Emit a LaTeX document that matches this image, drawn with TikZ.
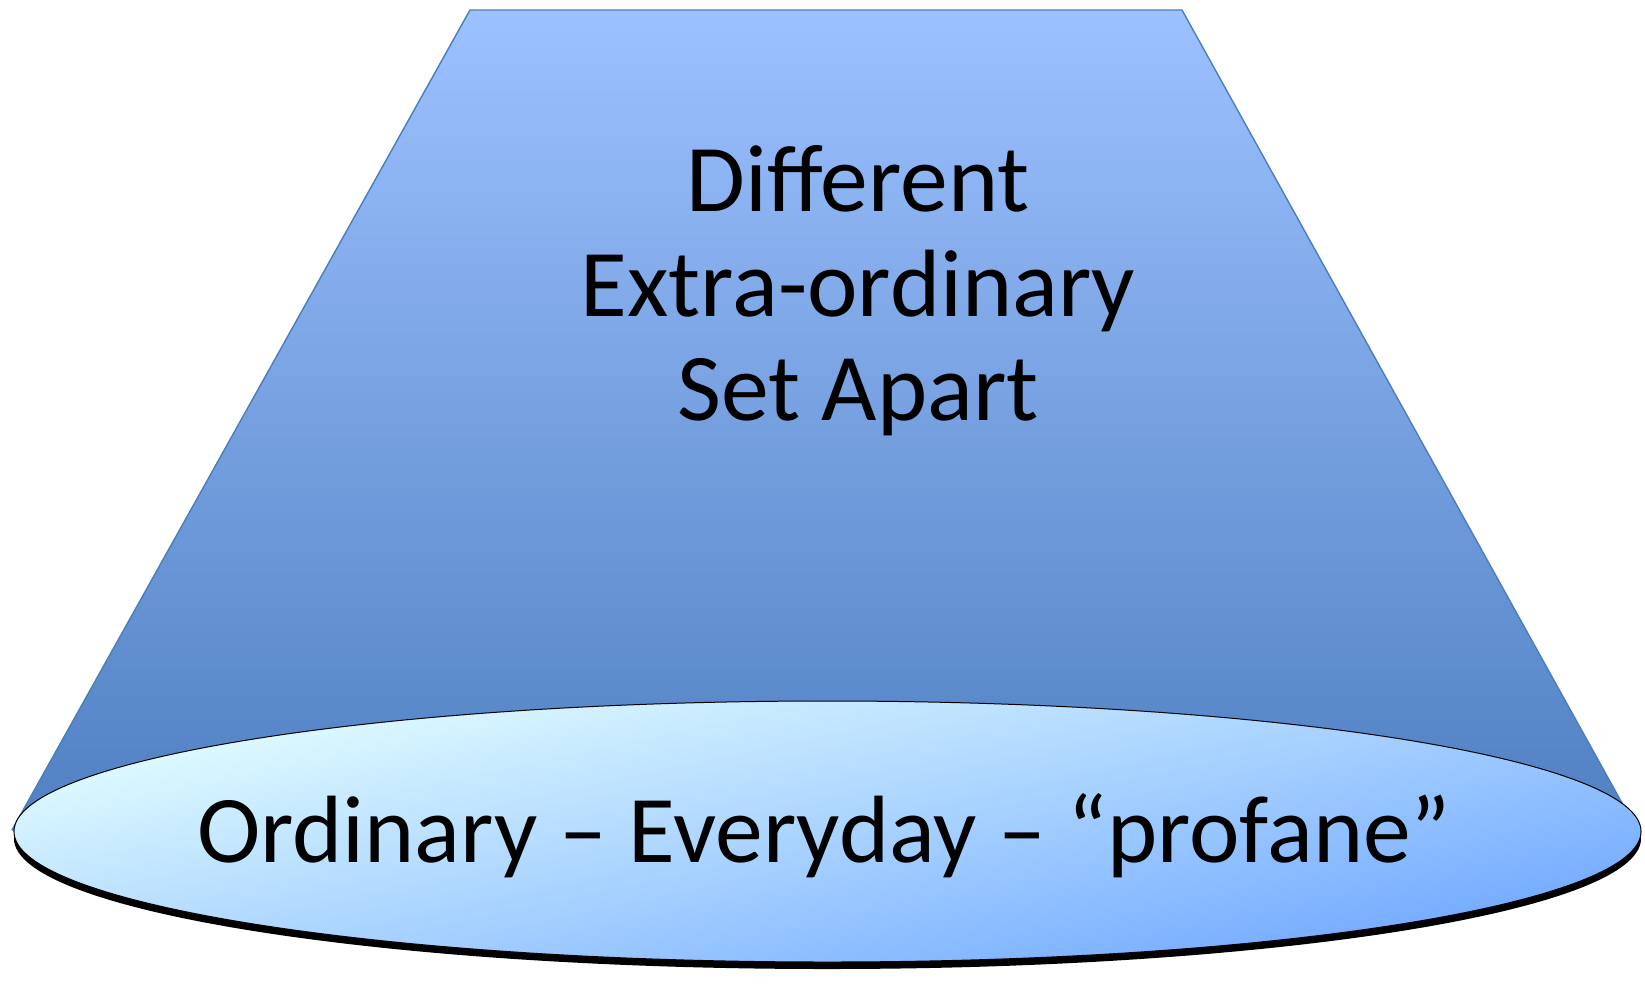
\documentclass[tikz,border=0pt]{standalone}
\usepackage{fontspec}
\setmainfont{Carlito}
\definecolor{coneTop}{HTML}{9DC1FF}
\definecolor{coneBot}{HTML}{4F80C2}
\definecolor{coneLine}{HTML}{4A7EBB}
\definecolor{baseLight}{HTML}{E4FFFF}
\definecolor{baseDark}{HTML}{6FA7FF}
\tikzset{
  big text/.style={font=\fontsize{48}{52.5}\selectfont, align=center, text=black, inner sep=0pt},
}
\begin{document}
\begin{tikzpicture}[x=0.5bp,y=-0.5bp,line join=bevel]
    \useasboundingbox (0,0) rectangle (1645,986);
    %% cone
    \coordinate (tl) at (470,10);
    \coordinate (tr) at (1182,10);
    \coordinate (br) at (1637,830);
    \coordinate (bl) at (12,830);
    \shade [top color=coneTop, bottom color=coneBot, draw=coneLine, line width=0.7bp] (tl) -- (tr) -- (br) -- (bl) -- cycle;
    %% base
    \fill [black] (827.5,838.5) ellipse [x radius=406.75bp, y radius=65.25bp];
    \shade [top color=baseLight, bottom color=baseDark, shading angle=12, draw=black, line width=0.5bp] (827.5,831.5) ellipse [x radius=406.75bp, y radius=65.25bp];
    %%
    \node (upper) at (858,291) [big text] {Different\\Extra-ordinary\\Set Apart};
    \node (lower) at (824,862) [big text, anchor=base] {Ordinary – Everyday – “profane”};
    %
\end{tikzpicture}
\end{document}
